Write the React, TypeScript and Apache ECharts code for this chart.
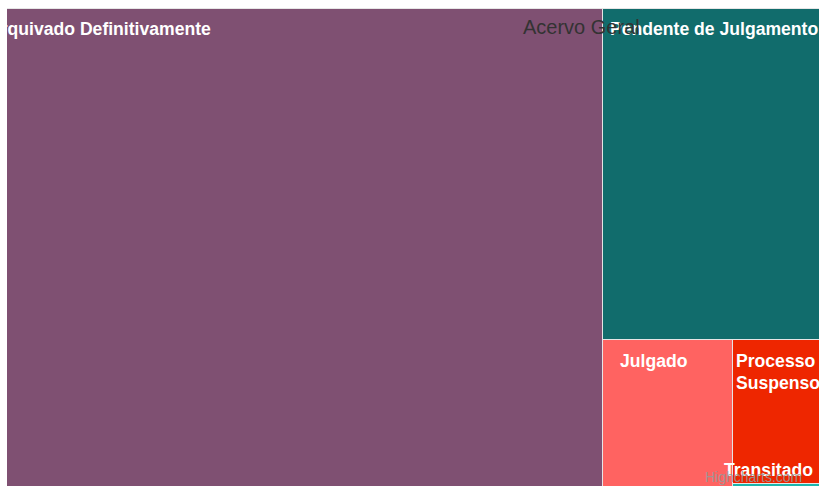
import React, { useEffect, useRef } from 'react';
import * as echarts from 'echarts';

// ---- data ----
const TITLE = 'Acervo Geral';
const CATEGORIES = [
  'Arquivado Definitivamente',
  'Pendente de Julgamento',
  'Julgado',
  'Processo Suspenso',
  'Transitado',
];
const VALUES = [299800, 72160, 19630, 12670, 616];
const CREDIT = 'Highcharts.com';

// ---- styles ----
const COLORS = ['#7f5072', '#116c6c', '#ff6361', '#ee2600', '#1cb5ac'];
const LABEL_POS: (number[] | null)[] = [[7, 9], [7, 9], [17, 10], [3, 10], null];
const LABEL_OVERFLOW = ['none', 'none', 'none', 'break', 'none'];
const FONT = '"Liberation Sans", Arial, Helvetica, sans-serif';
const LABEL_SIZE = 17.6;

export default function App() {
  const ref = useRef<HTMLDivElement>(null);

  useEffect(() => {
    if (!ref.current) return;
    const chart = echarts.init(ref.current, undefined, { renderer: 'svg' });

    const data = CATEGORIES.map((name, i) => ({
      name,
      value: VALUES[i],
      itemStyle: { color: COLORS[i] },
      label: LABEL_POS[i]
        ? { show: true, position: LABEL_POS[i], overflow: LABEL_OVERFLOW[i] }
        : { show: false },
    }));

    chart.setOption({
      animation: false,
      tooltip: { show: false },
      series: [
        {
          type: 'treemap',
          name: TITLE,
          left: -27,
          top: 8,
          width: 841,
          height: 483,
          roam: false,
          nodeClick: false,
          breadcrumb: { show: false },
          squareRatio: 0.5 * (1 + Math.sqrt(5)),
          label: {
            show: true,
            color: '#ffffff',
            fontFamily: FONT,
            fontSize: LABEL_SIZE,
            fontWeight: 'bold',
            lineHeight: 22,
            padding: 0,
            overflow: 'none',
          },
          emphasis: { disabled: true },
          levels: [
            {
              itemStyle: {
                borderWidth: 1,
                gapWidth: 1,
                borderColor: '#e6e6e6',
              },
            },
            {
              itemStyle: { borderWidth: 0, gapWidth: 0 },
            },
          ],
          data,
        },
      ],
      graphic: [
        {
          // chart title: drawn over the tiles but under the tile labels
          type: 'text',
          z: 2,
          z2: 12.5,
          x: 516,
          y: 27,
          style: {
            text: TITLE,
            fill: '#333333',
            font: `20px ${FONT}`,
            verticalAlign: 'middle',
            align: 'left',
          },
        },
        {
          type: 'text',
          z: 100,
          x: 717,
          y: 470,
          style: {
            text: CATEGORIES[4],
            fill: '#ffffff',
            font: `bold ${LABEL_SIZE}px ${FONT}`,
            verticalAlign: 'middle',
            align: 'left',
          },
        },
        {
          type: 'text',
          z: 101,
          x: 698,
          y: 477,
          style: {
            text: CREDIT,
            fill: 'rgba(153,153,153,0.9)',
            font: `14px ${FONT}`,
            verticalAlign: 'middle',
            align: 'left',
          },
        },
      ],
    });

    return () => {
      chart.dispose();
    };
  }, []);

  return (
    <div
      ref={ref}
      style={{ position: 'absolute', left: 7, top: 0, width: 812, height: 486 }}
    />
  );
}
